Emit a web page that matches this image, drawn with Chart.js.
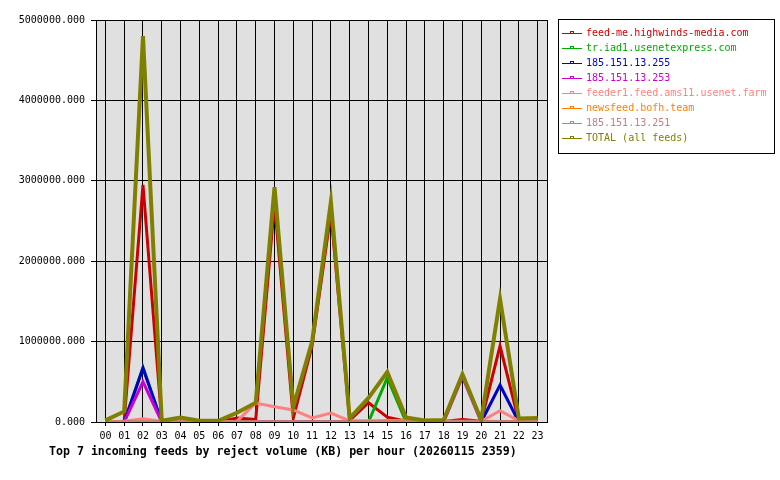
<!DOCTYPE html>
<html>
<head>
<meta charset="utf-8">
<script src="https://cdn.jsdelivr.net/npm/chart.js@4.4.1/dist/chart.umd.min.js"></script>
<style>
  body { margin: 0; background: #fff; }
</style>
</head>
<body>
<canvas id="myChart" width="780" height="480"></canvas>
<script>
// hours of the day
const hours = ['00','01','02','03','04','05','06','07','08','09','10','11',
               '12','13','14','15','16','17','18','19','20','21','22','23'];

const feedNames = [
  'feed-me.highwinds-media.com',
  'tr.iad1.usenetexpress.com',
  '185.151.13.255',
  '185.151.13.253',
  'feeder1.feed.ams11.usenet.farm',
  'newsfeed.bofh.team',
  '185.151.13.251',
  'TOTAL (all feeds)'
];

const feedColors = ['#cc0000', '#00aa00', '#0000cc', '#cc00cc', '#ff8080', '#ff8000', '#c08080', '#808000'];

// reject volume in KB per hour
const highwinds = [0, 10000, 2950000, 5000, 5000, 0, 0, 50000, 30000, 2720000, 50000, 950000,
                   2600000, 20000, 240000, 60000, 10000, 0, 5000, 30000, 10000, 945000, 10000, 0];
const usenetexpress = [0, 0, 680000, 0, 0, 0, 0, 0, 0, 0, 0, 0,
                       0, 0, 0, 550000, 0, 0, 0, 0, 0, 0, 0, 0];
const ip255 = [0, 0, 670000, 0, 0, 0, 0, 0, 0, 0, 0, 0,
               0, 0, 0, 0, 0, 0, 0, 0, 0, 460000, 0, 0];
const ip253 = [0, 0, 500000, 0, 0, 0, 0, 0, 0, 0, 0, 0,
               0, 0, 0, 0, 0, 0, 0, 560000, 0, 0, 0, 0];
const ams11 = [5000, 10000, 40000, 10000, 10000, 5000, 5000, 10000, 235000, 190000, 150000, 50000,
               110000, 15000, 15000, 20000, 15000, 10000, 10000, 10000, 10000, 140000, 15000, 15000];
const bofh = [0, 0, 0, 0, 0, 0, 0, 0, 0, 0, 0, 0,
              0, 0, 0, 10000, 25000, 0, 0, 0, 0, 0, 10000, 0];
const ip251 = [3000, 3000, 3000, 3000, 3000, 3000, 3000, 3000, 3000, 3000, 3000, 3000,
               3000, 3000, 3000, 3000, 3000, 3000, 3000, 3000, 3000, 3000, 3000, 3000];
const total = [20000, 130000, 4800000, 15000, 55000, 15000, 15000, 115000, 240000, 2920000, 190000, 1000000,
               2740000, 45000, 300000, 620000, 55000, 20000, 25000, 595000, 25000, 1530000, 45000, 50000];

const yTicks = [0, 1000000, 2000000, 3000000, 4000000, 5000000];

const chartTitle = 'Top 7 incoming feeds by reject volume (KB) per hour (20260115 2359)';

const seriesData = [highwinds, usenetexpress, ip255, ip253, ams11, bofh, ip251, total];

const data = {
  labels: hours,
  datasets: seriesData.map((values, i) => ({
    label: feedNames[i],
    data: values,
    borderColor: feedColors[i],
    backgroundColor: feedColors[i],
    borderWidth: i === 7 ? 4 : 3,
    pointRadius: 0,
    tension: 0,
    // later feeds drawn on top, like the original
    order: seriesData.length - 1 - i
  }))
};

// background, border, legend box and title
const decorations = {
  id: 'decorations',
  beforeDraw(chart) {
    const { ctx, chartArea: { left, top, right, bottom } } = chart;
    ctx.save();
    ctx.fillStyle = '#ffffff';
    ctx.fillRect(0, 0, chart.width, chart.height);
    ctx.fillStyle = '#e0e0e0';
    ctx.fillRect(left, top, right - left, bottom - top);
    ctx.restore();
  },
  afterDraw(chart) {
    const { ctx, chartArea: { left, top, right, bottom } } = chart;
    ctx.save();
    ctx.strokeStyle = '#000';
    ctx.lineWidth = 1;
    ctx.strokeRect(Math.round(left) + 0.5, Math.round(top) + 0.5, Math.round(right - left), Math.round(bottom - top));

    // legend
    ctx.fillStyle = '#fff';
    ctx.fillRect(558, 19, 217, 134);
    ctx.strokeRect(558.5, 19.5, 216, 134);
    ctx.font = '10px "DejaVu Sans Mono"';
    ctx.textAlign = 'left';
    ctx.textBaseline = 'middle';
    chart.data.datasets.forEach((ds, i) => {
      const y = 33.5 + i * 15;
      ctx.strokeStyle = ds.borderColor;
      ctx.beginPath();
      ctx.moveTo(562, y);
      ctx.lineTo(582, y);
      ctx.stroke();
      ctx.strokeRect(570.5, y - 2, 3, 2);
      ctx.fillStyle = ds.borderColor;
      ctx.fillText(ds.label, 586, y);
    });

    // title under the axis
    ctx.fillStyle = '#000';
    ctx.font = 'bold 11.6px "DejaVu Sans Mono"';
    ctx.fillText(chartTitle, 49, 452);
    ctx.restore();
  }
};

const config = {
  type: 'line',
  data,
  options: {
    responsive: false,
    animation: false,
    layout: {
      padding: { top: 20, right: 233, bottom: 0, left: 0 }
    },
    plugins: {
      legend: { display: false },
      tooltip: { enabled: false }
    },
    scales: {
      x: {
        offset: true,
        grid: { color: '#000', lineWidth: 1, tickLength: 4, offset: false },
        border: { color: '#000' },
        ticks: {
          color: '#000',
          font: { family: 'DejaVu Sans Mono', size: 10 },
          padding: 4,
          maxRotation: 0,
          autoSkip: false
        },
        afterFit(scale) { scale.height = 58; }
      },
      y: {
        min: 0,
        max: 5000000,
        afterBuildTicks(scale) {
          scale.ticks = yTicks.map(v => ({ value: v }));
        },
        grid: { color: '#000', lineWidth: 1, tickLength: 5 },
        border: { color: '#000' },
        ticks: {
          color: '#000',
          font: { family: 'DejaVu Sans Mono', size: 10 },
          padding: 6,
          callback: v => Number(v).toFixed(3)
        },
        afterFit(scale) { scale.width = 96; }
      }
    }
  },
  plugins: [decorations]
};

const myChart = new Chart(document.getElementById('myChart'), config);
</script>
</body>
</html>
